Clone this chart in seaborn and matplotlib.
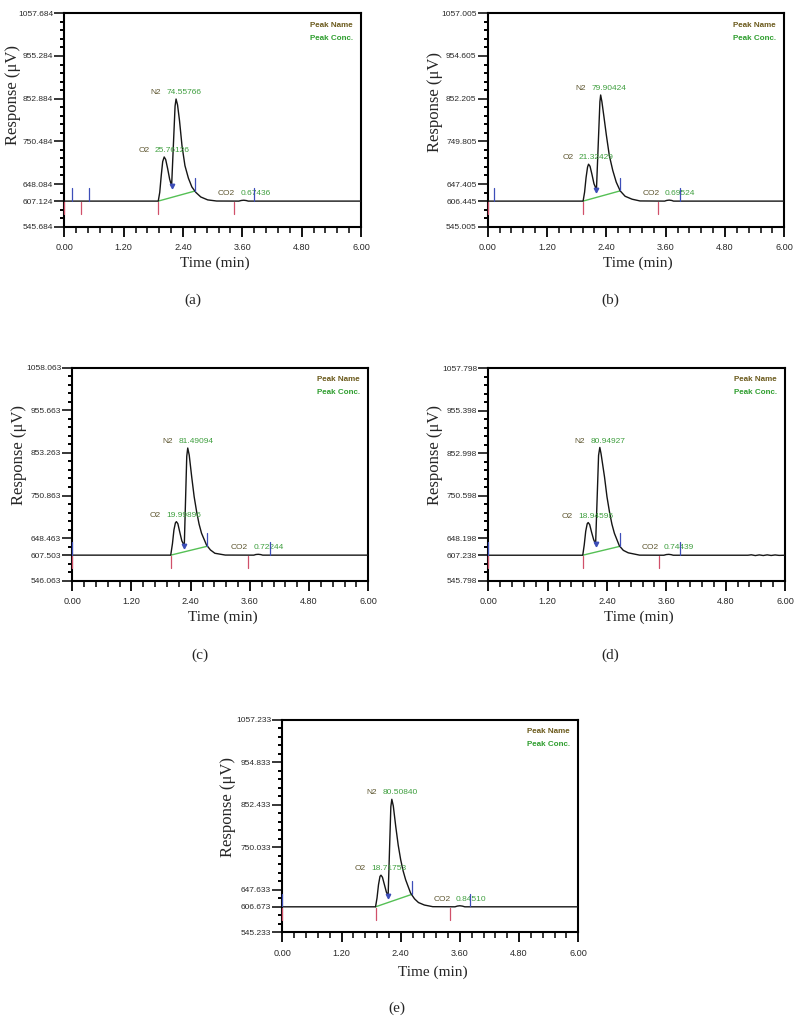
import numpy as np
import pandas as pd
import matplotlib
matplotlib.use("Agg")
import matplotlib.pyplot as plt
import seaborn as sns
from matplotlib.ticker import FixedLocator, FixedFormatter

sns.set_style("white")
plt.rcParams['font.family'] = ['Liberation Sans', 'DejaVu Sans']

# ---------------- data ----------------
panel_ids = ["a", "b", "c", "d", "e"]
peak_names = ["O2", "N2", "CO2"]
x_major = [0.00, 1.20, 2.40, 3.60, 4.80, 6.00]

# panel (a)
a_time = [0.00, 1.90, 1.93, 1.96, 1.99, 2.02, 2.05, 2.09, 2.13, 2.17, 2.24, 2.26, 2.29, 2.33, 2.38, 2.44,
          2.51, 2.58, 2.66, 2.76, 2.90, 3.08, 3.53, 3.58, 3.63, 3.68, 3.72, 6.00]
a_resp = [607.1, 607.1, 628, 668, 702, 713, 707, 685, 660, 643, 835, 852, 838, 800, 740, 692,
          662, 641, 628, 617, 610, 607.3, 607.1, 608.6, 609.2, 608.4, 607.1, 607.1]
a_yticks = [545.684, 607.124, 648.084, 750.484, 852.884, 955.284, 1057.684]
a_conc = [25.76126, 74.55766, 0.67436]
a_rt = [2.02, 2.26, 3.63]
a_start = [0.00, 0.33, 1.90, 3.43]
a_end = [0.15, 0.50, 2.64, 3.84]
a_valley = 2.17

# panel (b)
b_time = [0.00, 1.93, 1.96, 1.99, 2.02, 2.04, 2.07, 2.11, 2.15, 2.20, 2.27, 2.285, 2.31, 2.35, 2.40, 2.46,
          2.53, 2.60, 2.68, 2.78, 2.92, 3.08, 3.58, 3.62, 3.67, 3.72, 3.76, 6.00]
b_resp = [606.4, 606.4, 628, 663, 688, 695, 690, 670, 648, 634, 845, 861, 845, 810, 765, 716,
          680, 652, 631, 618, 611, 606.8, 606.4, 608.0, 608.8, 608.0, 606.4, 606.4]
b_yticks = [545.005, 606.445, 647.405, 749.805, 852.205, 954.605, 1057.005]
b_conc = [21.32429, 79.90424, 0.69524]
b_rt = [2.03, 2.28, 3.65]
b_start = [0.00, 1.93, 3.45]
b_end = [0.12, 2.68, 3.90]
b_valley = 2.20

# panel (c)
c_time = [0.00, 1.995, 2.03, 2.06, 2.09, 2.11, 2.14, 2.18, 2.22, 2.27, 2.32, 2.34, 2.37, 2.42, 2.47, 2.52,
          2.57, 2.62, 2.72, 2.80, 2.89, 3.10, 3.68, 3.72, 3.77, 3.82, 3.86, 6.00]
c_resp = [607.5, 607.5, 635, 668, 685, 688, 683, 662, 642, 630, 845, 865, 848, 796, 748, 712,
          682, 660, 632, 620, 612, 607.7, 607.5, 609.0, 609.5, 608.8, 607.5, 607.5]
c_yticks = [546.063, 607.503, 648.463, 750.863, 853.263, 955.663, 1058.063]
c_conc = [19.99896, 81.49094, 0.72244]
c_rt = [2.10, 2.335, 3.74]
c_start = [0.00, 1.995, 3.56]
c_end = [0.00, 2.74, 4.00]
c_valley = 2.27

# panel (d)
d_time = [0.00, 1.91, 1.94, 1.97, 2.00, 2.02, 2.05, 2.09, 2.13, 2.17, 2.23, 2.255, 2.28, 2.35, 2.40, 2.45,
          2.50, 2.55, 2.65, 2.73, 2.83, 3.06, 3.55, 3.60, 3.65, 3.70, 3.74, 5.25, 5.32, 5.40, 5.48,
          5.56, 5.64, 5.72, 5.80, 5.88, 6.00]
d_resp = [607.2, 607.2, 632, 665, 683, 686, 681, 662, 645, 634, 848, 867, 852, 796, 748, 712,
          682, 660, 630, 619, 613, 607.4, 607.2, 608.8, 609.3, 608.5, 607.2, 607.2, 608.2, 606.4, 608.0,
          606.5, 608.1, 606.6, 607.9, 606.8, 607.2]
d_yticks = [545.798, 607.238, 648.198, 750.598, 852.998, 955.398, 1057.798]
d_conc = [18.94595, 80.94927, 0.74439]
d_rt = [2.01, 2.25, 3.62]
d_start = [0.00, 1.91, 3.46]
d_end = [0.00, 2.66, 3.88]
d_valley = 2.17

# panel (e)
e_time = [0.00, 1.89, 1.92, 1.95, 1.98, 2.00, 2.03, 2.07, 2.11, 2.145, 2.20, 2.22, 2.25, 2.30, 2.35, 2.40,
          2.45, 2.50, 2.60, 2.68, 2.76, 2.88, 3.05, 3.50, 3.55, 3.60, 3.65, 3.70, 6.00]
e_resp = [606.7, 606.7, 628, 660, 680, 683, 678, 660, 642, 633, 848, 866, 850, 800, 755, 720,
          693, 672, 640, 626, 617, 611, 607, 606.7, 608.5, 609.2, 608.4, 606.7, 606.7]
e_yticks = [545.233, 606.673, 647.633, 750.033, 852.433, 954.833, 1057.233]
e_conc = [18.71753, 80.50840, 0.84510]
e_rt = [1.99, 2.22, 3.58]
e_start = [0.00, 1.89, 3.39]
e_end = [0.00, 2.62, 3.80]
e_valley = 2.145

panels = {
    "a": dict(t=a_time, r=a_resp, yt=a_yticks, conc=a_conc, rt=a_rt, st=a_start, en=a_end, va=a_valley),
    "b": dict(t=b_time, r=b_resp, yt=b_yticks, conc=b_conc, rt=b_rt, st=b_start, en=b_end, va=b_valley),
    "c": dict(t=c_time, r=c_resp, yt=c_yticks, conc=c_conc, rt=c_rt, st=c_start, en=c_end, va=c_valley),
    "d": dict(t=d_time, r=d_resp, yt=d_yticks, conc=d_conc, rt=d_rt, st=d_start, en=d_end, va=d_valley),
    "e": dict(t=e_time, r=e_resp, yt=e_yticks, conc=e_conc, rt=e_rt, st=e_start, en=e_end, va=e_valley),
}

# ---------------- layout / style ----------------
W, H = 800, 1016
axes_px = {  # left, right, top, bottom in pixels
    "a": (64.3, 361.0, 13.3, 226.7),
    "b": (487.7, 784.3, 13.3, 226.7),
    "c": (72.3, 368.3, 367.7, 580.7),
    "d": (488.3, 785.0, 368.3, 580.7),
    "e": (282.3, 578.3, 720.0, 932.3),
}
cap_px = {"a": (193, 300), "b": (610, 300), "c": (200, 655), "d": (610, 655), "e": (397, 1008)}
xlab_y = {"a": -0.170, "b": -0.170, "c": -0.170, "d": -0.170, "e": -0.187}
ylab_xy = {"a": (-0.173, 0.615), "b": (-0.178, 0.585), "c": (-0.18, 0.59),
           "d": (-0.18, 0.59), "e": (-0.183, 0.59)}

NAME_C = "#5e5630"
CONC_C = "#3f9f3f"
BLUE = "#3d4eb8"
RED = "#d0506a"
GREEN_LINE = "#55c055"
TICK_TXT = "#2a2a2a"
SERIF = ["Liberation Serif", "DejaVu Serif"]

fig = plt.figure(figsize=(W / 100, H / 100), dpi=100)

for pid in panel_ids:
    p = panels[pid]
    l, rgt, top, bot = axes_px[pid]
    ax = fig.add_axes([l / W, 1 - bot / H, (rgt - l) / W, (bot - top) / H])
    t = np.array(p["t"], float)
    r = np.array(p["r"], float)
    yt = p["yt"]
    ymin, ymax = yt[0], yt[-1]
    base = yt[1]

    # integration baselines (green)
    for k in range(len(p["st"])):
        pass
    s_t = [v for v in p["st"] if 1.5 < v < 2.5][0]
    e_t = [v for v in p["en"] if 2.3 < v < 3.0][0]
    ax.plot([s_t, e_t], [base, np.interp(e_t, t, r)], color=GREEN_LINE, lw=1.0, zorder=2)

    # trace
    df = pd.DataFrame({"time": t, "resp": r})
    sns.lineplot(data=df, x="time", y="resp", ax=ax, color="#151515", lw=1.0,
                 estimator=None, sort=False, zorder=3)

    # start (red) and end (blue) markers
    for st in p["st"]:
        ax.plot([st, st], [base - 2, base - 32], color=RED, lw=0.9, zorder=5, clip_on=False)
    for en in p["en"]:
        yv = np.interp(en, t, r)
        ax.plot([en, en], [yv + 1, yv + 32], color=BLUE, lw=0.9, zorder=5, clip_on=False)
    # valley drop marker
    ax.plot([p["va"]], [np.interp(p["va"], t, r)], marker="v", ms=3.2, color=BLUE,
            zorder=6, linestyle="none")

    # peak labels
    for name, conc, rt in zip(peak_names, p["conc"], p["rt"]):
        if name == "CO2":
            y0 = base
            dy, dxn, dxv = 5.4, -6.2, -2.6
        else:
            win = (t > rt - 0.06) & (t < rt + 0.06)
            y0 = r[win].max()
            dy, dxn, dxv = 4.6, -10.6, -6.6
        ax.annotate(name, (rt, y0), xytext=(dxn, dy), textcoords="offset points",
                    ha="right", va="center", fontsize=6, color=NAME_C)
        ax.annotate(f"{conc:.5f}", (rt, y0), xytext=(dxv, dy), textcoords="offset points",
                    ha="left", va="center", fontsize=6, color=CONC_C)

    # legend text
    ax.text(0.828, 0.945, "Peak Name", transform=ax.transAxes, fontsize=5.8,
            color="#6b5a1c", fontweight="bold", va="center", ha="left")
    ax.text(0.828, 0.884, "Peak Conc.", transform=ax.transAxes, fontsize=5.8,
            color="#2f9e2f", fontweight="bold", va="center", ha="left")

    # axes
    ax.set_xlim(0, 6)
    ax.set_ylim(ymin, ymax)
    ax.xaxis.set_major_locator(FixedLocator(x_major))
    ax.xaxis.set_major_formatter(FixedFormatter([f"{v:.2f}" for v in x_major]))
    ax.xaxis.set_minor_locator(FixedLocator(np.arange(0, 6.001, 0.24)))
    ax.yaxis.set_major_locator(FixedLocator(yt))
    ax.yaxis.set_major_formatter(FixedFormatter([f"{v:.3f}" for v in yt]))
    ax.yaxis.set_minor_locator(FixedLocator(np.arange(ymin, ymax + 1e-6, 20.48)))

    ax.tick_params(axis="x", which="major", direction="out", length=7.5, width=1.3,
                   labelsize=6.6, pad=4.5, colors="black", labelcolor=TICK_TXT, bottom=True)
    ax.tick_params(axis="x", which="minor", direction="out", length=4.0, width=1.1,
                   colors="black", bottom=True)
    ax.tick_params(axis="y", which="major", direction="out", length=7.0, width=1.1,
                   labelsize=6.0, pad=1.0, colors="black", labelcolor=TICK_TXT, left=True)
    ax.tick_params(axis="y", which="minor", direction="out", length=3.0, width=1.4,
                   colors="black", left=True)
    for sp in ax.spines.values():
        sp.set_visible(True)
        sp.set_linewidth(1.5)
        sp.set_color("black")

    ax.set_xlabel("Time (min)", fontsize=11, family=SERIF)
    ax.xaxis.set_label_coords(0.507, xlab_y[pid])
    ax.xaxis.label.set_va("center")
    ax.set_ylabel("Response (μV)", fontsize=12, family=SERIF)
    ax.yaxis.set_label_coords(*ylab_xy[pid])
    ax.yaxis.label.set_va("center")

    cx, cy = cap_px[pid]
    fig.text(cx / W, 1 - cy / H, f"({pid})", ha="center", va="center", fontsize=11, family=SERIF)

fig.savefig("out.png", dpi=100)
